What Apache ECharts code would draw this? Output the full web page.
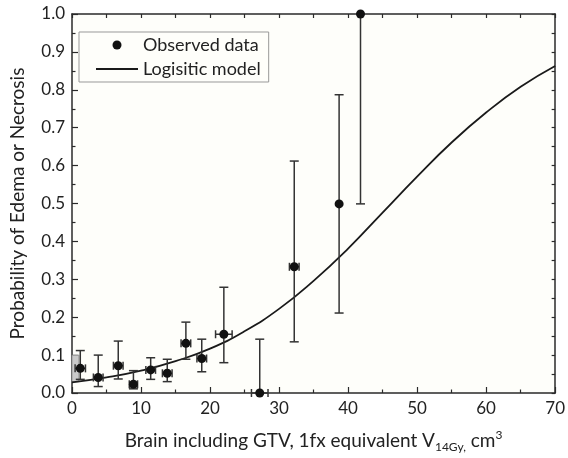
<!DOCTYPE html>
<html>
<head>
<meta charset="utf-8">
<script src="https://cdn.jsdelivr.net/npm/echarts@6/dist/echarts.min.js"></script>
<style>
html,body{margin:0;padding:0;background:#fff;}
#chart{width:568px;height:458px;}
</style>
</head>
<body>
<div id="chart"></div>
<script>
// Observed data: x (cm3), probability, lower/upper error, x lower/upper
const obsX    = [1.2, 3.8, 6.7, 8.9, 11.4, 13.8, 16.5, 18.8, 22.0, 27.2, 32.2, 38.7, 41.8];
const obsY    = [0.065, 0.041, 0.072, 0.023, 0.061, 0.052, 0.131, 0.091, 0.155, 0.0, 0.333, 0.499, 1.0];
const errLow  = [0.036, 0.017, 0.037, 0.011, 0.036, 0.030, 0.089, 0.056, 0.080, 0.0, 0.135, 0.211, 0.499];
const errHigh = [0.112, 0.100, 0.137, 0.059, 0.093, 0.089, 0.187, 0.142, 0.279, 0.142, 0.612, 0.787, 1.0];
const xLow    = [0.45, 3.1, 6.0, 8.3, 10.7, 13.1, 15.8, 18.1, 20.8, 26.0, 31.5, 38.7, 41.8];
const xHigh   = [1.95, 4.5, 7.4, 9.5, 12.1, 14.5, 17.2, 19.5, 23.2, 28.4, 32.9, 38.7, 41.8];
// Shaded box near origin (x0, x1, y0, y1)
const shadeBox = [0, 1.0, 0.030, 0.100];
// Logistic model curve
const curveX = [0, 5, 10, 15, 20, 25, 30, 35, 40, 45, 50, 55, 60, 65, 70];
const curveY = [0.028, 0.041, 0.059, 0.084, 0.117, 0.163, 0.222, 0.296, 0.381, 0.476, 0.571, 0.661, 0.740, 0.808, 0.863];
// Axis ticks
const xTicks = [0, 10, 20, 30, 40, 50, 60, 70];
const yTicks = [0.0, 0.1, 0.2, 0.3, 0.4, 0.5, 0.6, 0.7, 0.8, 0.9, 1.0];

const FONT = 'Lato, "Open Sans", sans-serif';
const AX = '#2a2a2a';
const PLOT_BG = '#fefefa';

const errData = obsX.map((x, i) => [x, obsY[i], errLow[i], errHigh[i], xLow[i], xHigh[i]]);
const scatterData = obsX.map((x, i) => [x, obsY[i]]);
const curveData = curveX.map((x, i) => [x, curveY[i]]);

const chart = echarts.init(document.getElementById('chart'), null, {renderer: 'canvas'});

chart.setOption({
  backgroundColor: '#ffffff',
  animation: false,
  textStyle: {fontFamily: FONT},
  grid: {left: 70, right: 11, top: 14, bottom: 65, show: true, backgroundColor: PLOT_BG, borderWidth: 0},
  legend: {
    left: 79, top: 32,
    orient: 'vertical',
    padding: [3, 8, 3, 16],
    itemGap: 4,
    itemWidth: 42, itemHeight: 9,
    borderColor: '#999', borderWidth: 1,
    backgroundColor: PLOT_BG,
    textStyle: {fontFamily: FONT, fontSize: 18, color: '#222', lineHeight: 20, padding: [0, 0, 0, 0]},
    data: [
      {name: 'Observed data', icon: 'circle', itemStyle: {color: '#111', opacity: 1}},
      {name: 'Logisitic model', itemStyle: {opacity: 0}}
    ]
  },
  xAxis: [{
    type: 'value', min: 0, max: 70, interval: 10,
    position: 'bottom',
    axisLine: {show: true, onZero: false, lineStyle: {color: AX, width: 1.5}},
    axisTick: {show: true, inside: true, length: 6, lineStyle: {color: AX, width: 1.2}},
    minorTick: {show: true, splitNumber: 2, length: 3.5, lineStyle: {color: AX, width: 1.2}},
    axisLabel: {show: true, fontSize: 17, color: '#222', margin: 7, fontFamily: FONT,
      formatter: v => xTicks.includes(v) ? String(v) : ''},
    splitLine: {show: false},
    name: '{a|Brain including GTV, 1fx equivalent V}{s|14Gy,}{a| cm}{p|3}',
    nameLocation: 'middle', nameGap: 36,
    nameTextStyle: {
      fontFamily: FONT, color: '#222',
      rich: {
        a: {fontSize: 19, lineHeight: 24, color: '#222', fontFamily: FONT},
        s: {fontSize: 12, lineHeight: 12, verticalAlign: 'bottom', color: '#222', fontFamily: FONT},
        p: {fontSize: 12, lineHeight: 12, verticalAlign: 'top', color: '#222', fontFamily: FONT}
      }
    }
  }, {
    type: 'value', min: 0, max: 70, interval: 5,
    position: 'top',
    axisLine: {show: true, onZero: false, lineStyle: {color: AX, width: 1.5}},
    axisTick: {show: true, inside: true, length: 4, lineStyle: {color: AX, width: 1.2}},
    axisLabel: {show: false},
    splitLine: {show: false}
  }],
  yAxis: [{
    type: 'value', min: 0, max: 1, interval: 0.1,
    position: 'left',
    axisLine: {show: true, onZero: false, lineStyle: {color: AX, width: 1.5}},
    axisTick: {show: true, inside: true, length: 6, lineStyle: {color: AX, width: 1.2}},
    minorTick: {show: true, splitNumber: 2, length: 3.5, lineStyle: {color: AX, width: 1.2}},
    axisLabel: {show: true, fontSize: 17, color: '#222', margin: 7, fontFamily: FONT,
      formatter: v => yTicks.some(t => Math.abs(t - v) < 1e-9) ? v.toFixed(1) : ''},
    splitLine: {show: false},
    name: 'Probability of Edema or Necrosis',
    nameLocation: 'middle', nameGap: 45, nameRotate: 90,
    nameTextStyle: {fontFamily: FONT, fontSize: 19, color: '#222'}
  }, {
    type: 'value', min: 0, max: 1, interval: 0.05,
    position: 'right',
    axisLine: {show: true, onZero: false, lineStyle: {color: AX, width: 1.5}},
    axisTick: {show: true, inside: true, length: 3.5, lineStyle: {color: AX, width: 1.2}},
    axisLabel: {show: false},
    splitLine: {show: false}
  }],
  series: [
    {
      name: 'Logisitic model',
      type: 'line',
      data: curveData,
      smooth: true,
      showSymbol: false,
      symbol: 'none',
      lineStyle: {color: '#1a1a1a', width: 1.8},
      itemStyle: {color: '#1a1a1a'},
      z: 3
    },
    {
      name: 'errorbars',
      type: 'custom',
      data: errData,
      clip: false,
      z: 4,
      markArea: {
        silent: true,
        itemStyle: {color: '#cacaca', borderColor: '#888', borderWidth: 0.8},
        data: [[{coord: [shadeBox[0], shadeBox[2]]}, {coord: [shadeBox[1], shadeBox[3]]}]]
      },
      renderItem: function (params, api) {
        const x = api.value(0), y = api.value(1);
        const lo = api.value(2), hi = api.value(3);
        const xl = api.value(4), xh = api.value(5);
        const pLo = api.coord([x, lo]);
        const pHi = api.coord([x, hi]);
        const style = {stroke: '#333', lineWidth: 1.5, fill: null};
        const cw = 4.5;
        const children = [];
        if (hi > lo) {
          children.push({type: 'line', shape: {x1: pLo[0], y1: pLo[1], x2: pHi[0], y2: pHi[1]}, style: style});
          if (lo > 0) children.push({type: 'line', shape: {x1: pLo[0] - cw, y1: pLo[1], x2: pLo[0] + cw, y2: pLo[1]}, style: style});
          if (hi < 1) children.push({type: 'line', shape: {x1: pHi[0] - cw, y1: pHi[1], x2: pHi[0] + cw, y2: pHi[1]}, style: style});
        }
        if (xh > xl) {
          const a = api.coord([xl, y]);
          const b = api.coord([xh, y]);
          const ch = 4;
          children.push({type: 'line', shape: {x1: a[0], y1: a[1], x2: b[0], y2: b[1]}, style: style});
          children.push({type: 'line', shape: {x1: a[0], y1: a[1] - ch, x2: a[0], y2: a[1] + ch}, style: style});
          children.push({type: 'line', shape: {x1: b[0], y1: b[1] - ch, x2: b[0], y2: b[1] + ch}, style: style});
        }
        return {type: 'group', children: children};
      }
    },
    {
      name: 'Observed data',
      type: 'scatter',
      data: scatterData,
      symbol: 'circle',
      symbolSize: 9,
      clip: false,
      itemStyle: {color: '#111', opacity: 1},
      z: 5
    }
  ]
});
</script>
</body>
</html>
